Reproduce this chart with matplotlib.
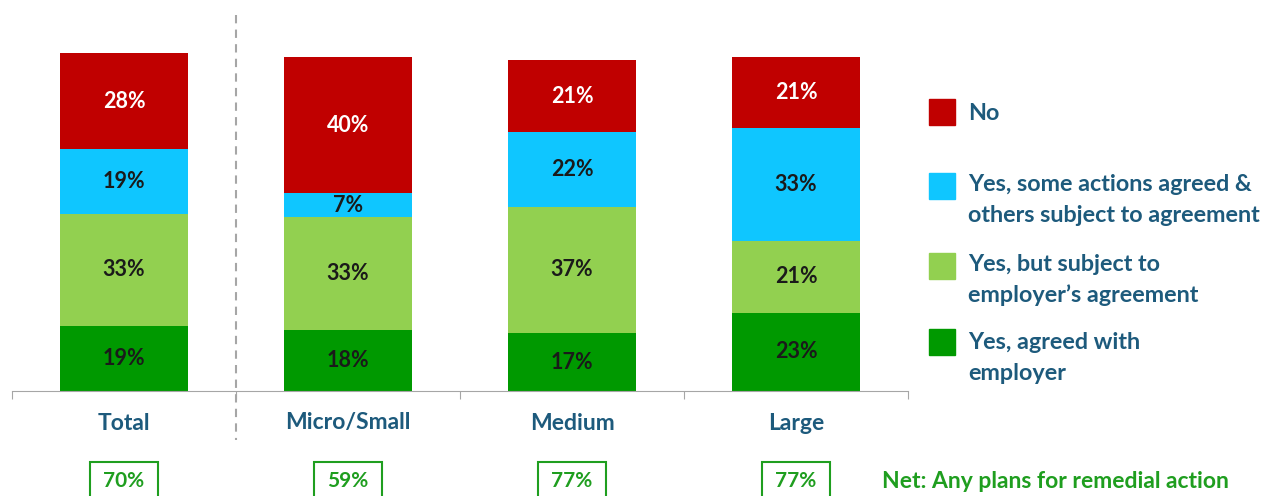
import matplotlib.pyplot as plt
from matplotlib.patches import Rectangle
from matplotlib.transforms import blended_transform_factory
import numpy as np

plt.rcParams['font.family'] = ['Lato', 'DejaVu Sans']

categories = ["Total", "Micro/Small", "Medium", "Large"]
agreed = np.array([19, 18, 17, 23])
subject = np.array([33, 33, 37, 21])
some = np.array([19, 7, 22, 33])
no = np.array([28, 40, 21, 21])
net = [70, 59, 77, 77]

series = [agreed, subject, some, no]
colors = ["#009900", "#92D050", "#0FC6FF", "#C00000"]
legend_labels = ["Yes, agreed with\nemployer",
                 "Yes, but subject to\nemployer\u2019s agreement",
                 "Yes, some actions agreed &\nothers subject to agreement",
                 "No"]
label_colors = ["#1a1a1a", "#1a1a1a", "#1a1a1a", "white"]

text_blue = "#1D5A7C"
net_green = "#1F9E1F"

W, H = 1279, 496
fig = plt.figure(figsize=(W / 100, H / 100), dpi=100)
ax = fig.add_axes([12 / W, (H - 391) / H, 896 / W, 391 / H])

x = np.arange(len(categories))
bottom = np.zeros(len(categories))
for vals, col, tcol in zip(series, colors, label_colors):
    ax.bar(x, vals, bottom=bottom, width=0.57, color=col)
    for xi, b, v in zip(x, bottom, vals):
        ax.text(xi, b + v / 2, f"{v}%", ha="center", va="center",
                fontsize=15.5, fontweight="bold", color=tcol)
    bottom += vals

ax.set_xlim(-0.5, 3.5)
ax.set_ylim(0, 391 / 3.41)
for s in ["top", "right", "left"]:
    ax.spines[s].set_visible(False)
ax.spines["bottom"].set_color("#A6A6A6")
ax.set_yticks([])
ax.set_xticks(np.arange(-0.5, 4, 1))
ax.set_xticklabels([])
ax.tick_params(axis="x", length=6, color="#A6A6A6", direction="out")

# separator between Total and the size bands
ax.plot([0.5, 0.5], [110.3, -14.5], ls=(0, (4, 3)), color="#A6A6A6",
        lw=1.5, clip_on=False)

pix = blended_transform_factory(ax.transData, fig.transFigure)
for xi, cat, n in zip(x, categories, net):
    ax.text(xi, 1 - 423 / H, cat, transform=pix, ha="center", va="center",
            fontsize=16.5, fontweight="bold", color=text_blue)
    ax.add_patch(Rectangle((xi - 0.152, 1 - 500 / H), 0.304, 38 / H,
                           transform=pix, fill=False, ec=net_green, lw=1.5,
                           clip_on=False))
    ax.text(xi, 1 - 481 / H, f"{n}%", transform=pix, ha="center",
            va="center", fontsize=15, fontweight="bold", color=net_green)

fig.text(882 / W, 1 - 481 / H, "Net: Any plans for remedial action",
         ha="left", va="center", fontsize=16.5, fontweight="bold",
         color=net_green)

# legend drawn by hand, top to bottom; swatch sits beside the first line
text_y = [113, 200, 280, 358]
swatch_y = [112, 186, 266, 342]
for lab, col, ty, sy in zip(legend_labels[::-1], colors[::-1], text_y,
                            swatch_y):
    fig.patches.append(Rectangle((929 / W, 1 - (sy + 13) / H), 26 / W,
                                 26 / H, transform=fig.transFigure,
                                 color=col))
    fig.text(968 / W, 1 - ty / H, lab, ha="left", va="center",
             fontsize=16.8, fontweight="bold", color=text_blue,
             linespacing=1.55)

fig.savefig("out.png", dpi=100)
